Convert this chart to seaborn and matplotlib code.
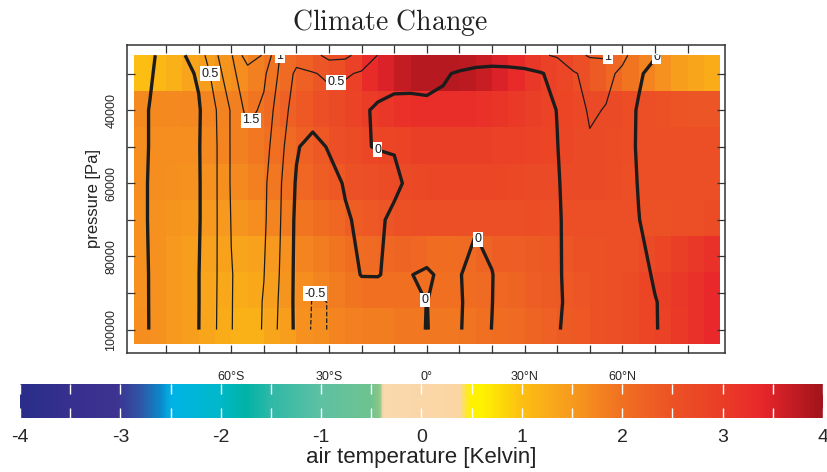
import numpy as np
import matplotlib
matplotlib.use('Agg')
import matplotlib.pyplot as plt
import seaborn as sns
from matplotlib.colors import LinearSegmentedColormap, Normalize
from matplotlib.patches import Rectangle

# ---------------------------------------------------------------------------
# Contoured field (thick = 0, thin = positive, dashed = negative)
# ---------------------------------------------------------------------------
contour_lats = [-90, -85, -80, -75, -70, -65, -60, -55, -50, -45, -40, -35, -30,
                -25, -20, -15, -10, -5, 0, 5, 10, 15, 20, 25, 30, 35, 40, 45,
                50, 55, 60, 65, 70, 75, 80, 85, 90]
contour_plev = [25000, 30000, 40000, 50000, 60000, 70000, 85000, 92500, 100000]

cf_25000 = [0.15, 0.05, -0.1, -0.05, 0.25, 0.9, 1.45, 2.3, 1.95, 0.98, 0.7, 0.85, 1.15,
            1.12, 0.8, 0.49, 0.35, 0.3, 0.3, 0.3, 0.3, 0.3, 0.3, 0.35, 0.4, 0.45, 0.55,
            0.85, 1.05, 1.1, 0.6, 0.3, 0.05, -0.2, -0.3, -0.35, -0.35]
cf_30000 = [0.15, 0.03, -0.12, -0.15, 0.06, 0.7, 1.4, 1.75, 1.6, 0.9, 0.4, 0.47, 0.58,
            0.55, 0.45, 0.35, 0.25, 0.2, 0.15, 0.05, -0.05, -0.15, -0.2, -0.2, -0.15, -0.03,
            0.15, 0.45, 0.65, 0.6, 0.42, 0.08, -0.2, -0.3, -0.35, -0.35, -0.35]
cf_40000 = [0.12, -0.01, -0.15, -0.15, -0.05, 0.45, 1.05, 1.65, 1.4, 0.7, 0.3, 0.3, 0.3,
            0.25, 0.1, -0.1, -0.2, -0.17, -0.1, -0.1, -0.3, -0.3, -0.3, -0.3, -0.25, -0.15,
            0.01, 0.3, 0.55, 0.48, 0.25, -0.05, -0.25, -0.3, -0.35, -0.35, -0.35]
cf_50000 = [0.12, -0.01, -0.15, -0.15, -0.03, 0.42, 1.05, 1.3, 1.2, 0.65, 0.05, -0.2, 0.05,
            0.15, 0.03, -0.02, -0.03, -0.2, -0.3, -0.3, -0.3, -0.3, -0.3, -0.3, -0.25, -0.15,
            -0.01, 0.2, 0.45, 0.4, 0.2, -0.05, -0.2, -0.3, -0.35, -0.35, -0.3]
cf_60000 = [0.12, -0.02, -0.15, -0.15, -0.04, 0.42, 1.05, 1.25, 1.1, 0.55, -0.05, -0.3, -0.2,
            0.05, 0.15, 0.2, 0.1, -0.1, -0.2, -0.25, -0.25, -0.25, -0.25, -0.25, -0.2, -0.15,
            -0.03, 0.15, 0.3, 0.3, 0.2, -0.02, -0.2, -0.3, -0.3, -0.3, -0.3]
cf_70000 = [0.12, -0.02, -0.15, -0.15, -0.04, 0.42, 1.02, 1.2, 1.08, 0.52, -0.1, -0.3, -0.3,
            -0.06, 0.1, 0.08, -0.1, -0.2, -0.2, -0.25, -0.12, -0.05, -0.1, -0.2, -0.2, -0.15,
            -0.04, 0.12, 0.25, 0.25, 0.2, 0.01, -0.15, -0.25, -0.3, -0.3, -0.3]
cf_85000 = [0.12, -0.01, -0.15, -0.12, -0.01, 0.43, 0.98, 1.2, 1.01, 0.47, -0.12, -0.45, -0.42,
            -0.2, 0.02, 0.02, -0.1, -0.005, 0.03, -0.04, -0.02, 0.135, 0.01, -0.15, -0.2, -0.15,
            -0.03, 0.08, 0.2, 0.25, 0.25, 0.15, -0.05, -0.2, -0.25, -0.3, -0.3]
cf_92500 = [0.13, -0.01, -0.15, -0.1, -0.01, 0.44, 0.98, 1.25, 0.97, 0.43, -0.12, -0.53, -0.495,
            -0.4, -0.3, -0.25, -0.2, -0.1, 0.004, -0.1, -0.03, 0.12, 0.005, -0.15, -0.2, -0.15,
            -0.03, 0.06, 0.2, 0.25, 0.25, 0.15, 0.02, -0.12, -0.2, -0.25, -0.25]
cf_100000 = [0.15, -0.01, -0.15, -0.1, -0.005, 0.45, 0.98, 1.3, 0.95, 0.4, -0.1, -0.56, -0.49,
             -0.4, -0.3, -0.25, -0.2, -0.1, 0.01, -0.1, -0.02, 0.12, -0.005, -0.15, -0.2, -0.15,
             -0.02, 0.08, 0.2, 0.25, 0.25, 0.15, 0.02, -0.1, -0.2, -0.25, -0.25]

contour_levels = [-0.5, 0, 0.5, 1.0, 1.5, 2.0]

# ---------------------------------------------------------------------------
# Shaded field: air temperature change [K], 5 degree columns (-87.5 .. 87.5)
# ---------------------------------------------------------------------------
heat_p30000 = [1.0, 1.1, 1.2, 1.35, 1.45, 1.55, 1.65, 1.8, 1.95, 2.1, 2.25, 2.45, 2.6, 2.9,
               3.3, 3.5, 3.7, 3.8, 3.8, 3.8, 3.75, 3.65, 3.5, 3.3, 3.1, 2.9, 2.75, 2.55,
               2.35, 2.15, 1.95, 1.75, 1.6, 1.45, 1.35, 1.25]
heat_p40000 = [1.7, 1.7, 1.7, 1.72, 1.75, 1.78, 1.82, 1.95, 2.1, 2.25, 2.4, 2.55, 2.7, 2.85,
               3.0, 3.1, 3.2, 3.25, 3.25, 3.25, 3.25, 3.2, 3.15, 3.05, 2.95, 2.85, 2.8, 2.72,
               2.7, 2.68, 2.62, 2.55, 2.52, 2.48, 2.45, 2.45]
heat_p50000 = [1.65, 1.65, 1.65, 1.65, 1.7, 1.75, 1.8, 1.9, 2.0, 2.1, 2.25, 2.4, 2.55, 2.65,
               2.75, 2.8, 2.85, 2.95, 2.95, 2.95, 2.95, 2.95, 2.9, 2.9, 2.85, 2.8, 2.75, 2.7,
               2.68, 2.65, 2.62, 2.6, 2.6, 2.6, 2.6, 2.6]
heat_p60000 = [1.65, 1.65, 1.62, 1.6, 1.6, 1.62, 1.7, 1.8, 1.9, 2.0, 2.15, 2.3, 2.4, 2.5,
               2.6, 2.65, 2.7, 2.72, 2.75, 2.75, 2.75, 2.75, 2.75, 2.72, 2.7, 2.7, 2.7, 2.7,
               2.68, 2.65, 2.6, 2.58, 2.55, 2.55, 2.55, 2.55]
heat_p70000 = [1.6, 1.6, 1.55, 1.52, 1.5, 1.5, 1.55, 1.65, 1.75, 1.85, 1.95, 2.05, 2.15, 2.3,
               2.4, 2.45, 2.5, 2.58, 2.6, 2.6, 2.6, 2.6, 2.6, 2.6, 2.62, 2.6, 2.6, 2.6,
               2.58, 2.55, 2.55, 2.52, 2.5, 2.55, 2.6, 2.65]
heat_p80000 = [1.6, 1.6, 1.5, 1.45, 1.4, 1.38, 1.35, 1.4, 1.5, 1.6, 1.75, 1.85, 1.95, 2.05,
               2.1, 2.15, 2.2, 2.15, 2.05, 2.05, 2.1, 2.2, 2.3, 2.3, 2.35, 2.4, 2.45, 2.5,
               2.5, 2.55, 2.6, 2.7, 2.8, 2.95, 3.1, 3.2]
heat_p90000 = [1.6, 1.6, 1.5, 1.45, 1.35, 1.3, 1.25, 1.3, 1.45, 1.55, 1.65, 1.75, 1.85, 1.95,
               2.0, 2.0, 2.0, 2.0, 2.0, 2.0, 2.05, 2.1, 2.15, 2.2, 2.3, 2.35, 2.4, 2.45,
               2.5, 2.6, 2.65, 2.8, 2.95, 3.1, 3.2, 3.35]
heat_p100000 = [1.65, 1.6, 1.5, 1.45, 1.35, 1.25, 1.2, 1.2, 1.35, 1.45, 1.6, 1.65, 1.75, 1.8,
                1.85, 1.85, 1.9, 1.9, 1.9, 1.9, 1.95, 2.0, 2.05, 2.1, 2.2, 2.25, 2.35, 2.4,
                2.5, 2.6, 2.65, 2.8, 2.9, 3.05, 3.2, 3.35]

# tick labels
xtick_vals = [-60, -30, 0, 30, 60]
xtick_text = ['60°S', '30°S', '0°', '30°N', '60°N']
ytick_vals = [40000, 60000, 80000, 100000]
cbar_ticks = [-4, -3, -2, -1, 0, 1, 2, 3, 4]
cbar_text = ['-4', '-3', '-2', '-1', '0', '1', '2', '3', '4']

# colour table (value, colour)
cmap_nodes = [(-4.0, '#2a2d8a'), (-3.5, '#37308e'), (-3.05, '#3d3290'), (-2.8, '#2f56a6'),
              (-2.6, '#0a8acb'), (-2.5, '#00b3e6'), (-2.0, '#00b8c8'), (-1.75, '#00b3a5'),
              (-1.5, '#2fb8a8'), (-1.0, '#5ec1a2'), (-0.5, '#6ec38e'), (-0.42, '#8cc687'),
              (-0.38, '#fad9ae'), (0.38, '#fbd5a3'), (0.48, '#fff100'), (0.6, '#fff200'),
              (1.0, '#fcbf12'), (1.5, '#f79a1e'), (2.0, '#f07021'), (2.5, '#ec5225'),
              (3.0, '#ea3d27'), (3.4, '#e8262a'), (3.6, '#cf1f26'), (4.0, '#a1141b')]

# ---------------------------------------------------------------------------
sns.set_theme(style='white')
plt.rcParams['font.family'] = ['Liberation Sans', 'DejaVu Sans']
plt.rcParams['mathtext.fontset'] = 'cm'
plt.rcParams['axes.unicode_minus'] = False

cmap = LinearSegmentedColormap.from_list(
    'airtemp', [((v + 4) / 8, c) for v, c in cmap_nodes], N=512)
norm = Normalize(vmin=-4, vmax=4)

heat = np.array([heat_p30000, heat_p40000, heat_p50000, heat_p60000,
                 heat_p70000, heat_p80000, heat_p90000, heat_p100000])
field = np.array([cf_25000, cf_30000, cf_40000, cf_50000, cf_60000,
                  cf_70000, cf_85000, cf_92500, cf_100000])
lat_edges = np.arange(-90, 91, 5)
p_edges = np.linspace(25000, 104000, heat.shape[0] + 1)

fig = plt.figure(figsize=(8.28, 4.72), dpi=100)
ax = fig.add_axes([127 / 828, 1 - 353 / 472, 598 / 828, 308 / 472])
ax.set_axisbelow(False)

mesh = ax.pcolormesh(lat_edges, p_edges, heat, cmap=cmap, norm=norm, shading='flat')

ax.set_xlim(-92, 91.5)
ax.set_ylim(106400, 22200)

cs = ax.contour(contour_lats, contour_plev, field, levels=contour_levels,
                colors='#1c1c1c',
                linewidths=[0.9, 2.4, 0.9, 0.9, 0.9, 0.9],
                linestyles=['--', '-', '-', '-', '-', '-'])

label_spots = [(-66, 30000), (-52.5, 43600), (-27.6, 33500), (-15.3, 51200),
               (-32.5, 88000), (-0.3, 91800), (17.2, 74700), (70.5, 25500),
               (-43.5, 25300), (55.5, 25300)]
texts = ax.clabel(cs, levels=contour_levels[:-1], fontsize=9, inline=False,
                  fmt='%g', manual=label_spots, colors='#1c1c1c')
clip_rect = Rectangle((-90, 25000), 180, 79000, transform=ax.transData)
for t in texts:
    t.set_rotation(0)
    t.set_bbox(dict(facecolor='white', edgecolor='none', pad=1.0))
    t.set_clip_path(clip_rect)

# axes cosmetics
ax.set_xticks(xtick_vals, xtick_text)
ax.set_xticks([v for v in range(-80, 81, 10) if v not in xtick_vals], minor=True)
ax.set_yticks(ytick_vals, [str(v) for v in ytick_vals])
ax.set_yticks([30000, 50000, 70000, 90000], minor=True)
ax.tick_params(which='both', direction='in', length=6, width=0.9, color='#333333',
               top=True, right=True, bottom=True, left=True, labelsize=9)
ax.tick_params(axis='x', pad=13)
ax.tick_params(axis='y', pad=7)
for lab in ax.get_yticklabels():
    lab.set_rotation(90)
    lab.set_va('center')
for s in ax.spines.values():
    s.set_color('#333333')
    s.set_linewidth(1.1)
ax.set_ylabel('pressure [Pa]', fontsize=12, labelpad=3, color='#222222')

fig.text(389.5 / 828, 1 - 30 / 472, r'$\mathrm{Climate\ Change}$', fontsize=20,
         ha='center', va='baseline', color='#222222')

# colour bar
cax = fig.add_axes([20 / 828, 1 - 418 / 472, 803 / 828, 34 / 472])
cb = fig.colorbar(mesh, cax=cax, orientation='horizontal')
cb.outline.set_visible(False)
cb.set_ticks(cbar_ticks, labels=cbar_text)
cax.set_xticks(np.arange(-3.5, 4, 1), minor=True)
cax.set_axisbelow(False)
cax.tick_params(which='both', direction='in', color='white', length=7, width=1,
                top=True, bottom=True, labelsize=14, pad=8)
cb.set_label('air temperature [Kelvin]', fontsize=16, labelpad=1, color='#222222')

fig.savefig('out.png', dpi=100)
